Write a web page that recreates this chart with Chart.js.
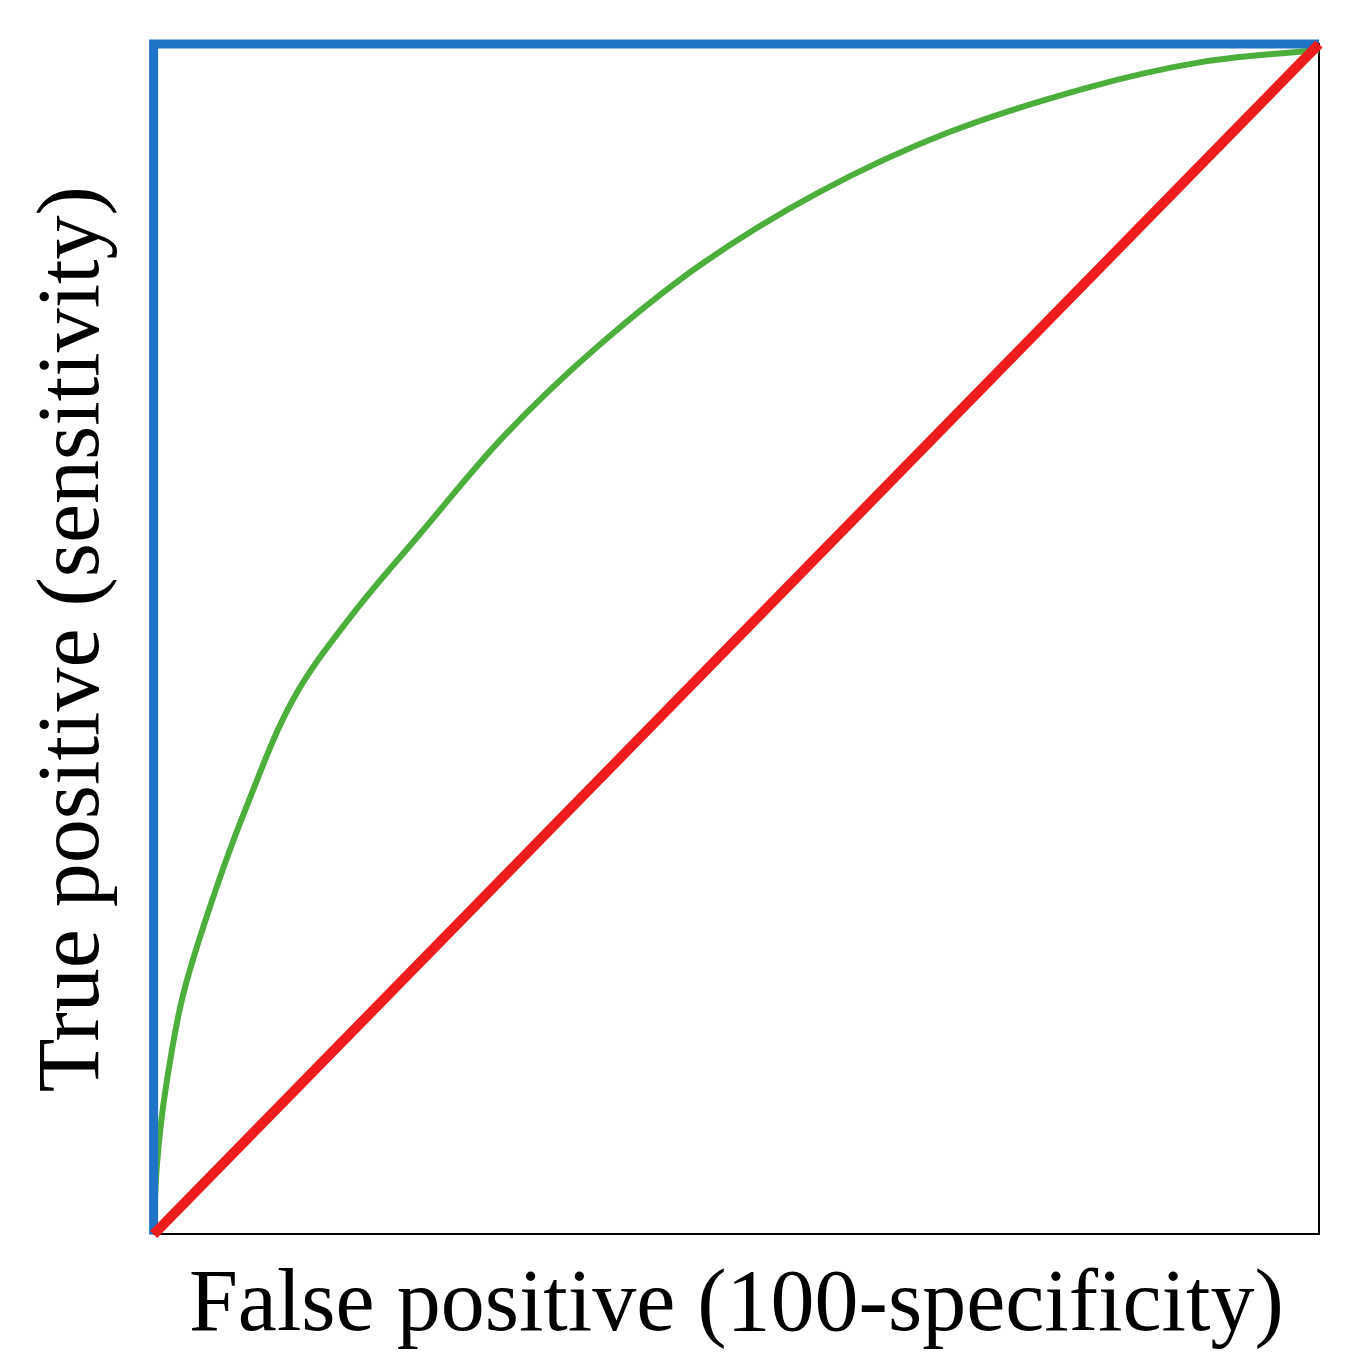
<!DOCTYPE html>
<html>
<head>
<script src="https://cdn.jsdelivr.net/npm/chart.js@4"></script>
<style>
  body { margin: 0; background: #fff; }
  #wrap { width: 1349px; height: 1360px; }
</style>
</head>
<body>
<div id="wrap"><canvas id="roc"></canvas></div>
<script>
// values (fractions of the axes)
const perfectX = [0, 0, 1];
const perfectY = [0, 1, 1];
const randomX = [0, 1];
const randomY = [0, 1];
const curveX = [0, 0.003, 0.01, 0.025, 0.05, 0.08, 0.12, 0.17, 0.23, 0.30, 0.38, 0.47, 0.57, 0.68, 0.80, 0.90, 1];
const curveY = [0, 0.06, 0.12, 0.20, 0.28, 0.36, 0.45, 0.52, 0.59, 0.67, 0.745, 0.815, 0.875, 0.925, 0.963, 0.985, 0.995];

const toPoints = (xs, ys) => xs.map((x, i) => ({ x: x, y: ys[i] }));

const titleFont = { family: "'Liberation Serif', 'DejaVu Serif', serif", size: 88 };

new Chart(document.getElementById("roc"), {
  type: "scatter",
  data: {
    datasets: [
      { data: toPoints(randomX, randomY), showLine: true, borderColor: "#ee1c1c", borderWidth: 10, pointRadius: 0, clip: false },
      { data: toPoints(perfectX, perfectY), showLine: true, borderColor: "#1f74c8", borderWidth: 9, pointRadius: 0, clip: false, borderJoinStyle: "miter" },
      { data: toPoints(curveX, curveY), showLine: true, borderColor: "#4caf3c", borderWidth: 6, pointRadius: 0, tension: 0.35, clip: false },
    ],
  },
  options: {
    responsive: true,
    maintainAspectRatio: false,
    animation: false,
    layout: { padding: { top: 44, right: 30, left: 22, bottom: 0 } },
    plugins: { legend: { display: false }, tooltip: { enabled: false } },
    scales: {
      x: {
        type: "linear", min: 0, max: 1,
        grid: { display: false },
        border: { color: "#000", width: 2 },
        ticks: { display: false },
        title: { display: true, text: "False positive (100-specificity)", color: "#000", font: titleFont, padding: { top: 12, bottom: 0 } },
      },
      y: {
        type: "linear", min: 0, max: 1,
        grid: { display: false },
        border: { color: "#000", width: 2 },
        ticks: { display: false },
        title: { display: true, text: "True positive (sensitivity)", color: "#000", font: titleFont, padding: { top: 0, bottom: 18 } },
      },
    },
  },
  plugins: [{
    // right and top frame lines
    id: "frame",
    beforeDatasetsDraw(chart) {
      const { ctx, chartArea: a } = chart;
      ctx.save();
      ctx.strokeStyle = "#000";
      ctx.lineWidth = 2;
      ctx.beginPath();
      ctx.moveTo(a.left, a.top);
      ctx.lineTo(a.right, a.top);
      ctx.lineTo(a.right, a.bottom);
      ctx.stroke();
      ctx.restore();
    },
  }],
});
</script>
</body>
</html>
